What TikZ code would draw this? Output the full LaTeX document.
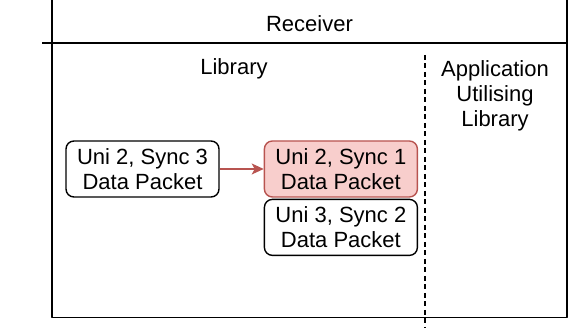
\documentclass[tikz,border=0pt]{standalone}
\usepackage{fontspec}
\setmainfont{Liberation Sans}
\usetikzlibrary{positioning,arrows.meta}
\definecolor{pktred}{HTML}{F8CECC}
\definecolor{pktedge}{HTML}{B85450}
\tikzset{
  packet/.style={draw, line width=1.4pt, rounded corners=8pt, align=center, inner sep=0pt,
    minimum width=153pt, minimum height=56pt, font=\fontsize{22}{25}\selectfont},
  heading/.style={inner sep=0pt, font=\fontsize{22}{25}\selectfont},
  pktarrow/.style={draw=pktedge, line width=1.4pt, -{Stealth[length=12pt,width=11pt,inset=3pt]}}
}
\begin{document}
\begin{tikzpicture}[x=1pt,y=1pt, line join=round]
    \useasboundingbox (0,0) rectangle (572,328);
    \clip (0,0) rectangle (572,328);
    % outer frame and header line
    \draw[line width=1.8pt] (52,10.5) rectangle (567,340);
    \draw[line width=1.8pt] (42,285) -- (567,285);
    \draw[line width=1.5pt, dash pattern=on 5pt off 3.5pt] (425,273) -- (425,0);

    \node[heading, anchor=base] (receiver) at (309.5,296.5) {Receiver};
    \node[heading, anchor=base] (library) at (234,253) {Library};
    \node[heading, anchor=north, align=center] (app) at (495,268) {Application\\Utilising\\Library};

    % packets
    \node[packet] (pktA) at (142.5,159) {Uni 2, Sync 3\\Data Packet};
    \node[packet, fill=pktred, draw=pktedge, right=44pt of pktA] (pktB) {Uni 2, Sync 1\\Data Packet};
    \node[packet, below=1pt of pktB] (pktC) {Uni 3, Sync 2\\Data Packet};

    \draw[pktarrow] (pktA) -- (pktB);
\end{tikzpicture}
\end{document}
